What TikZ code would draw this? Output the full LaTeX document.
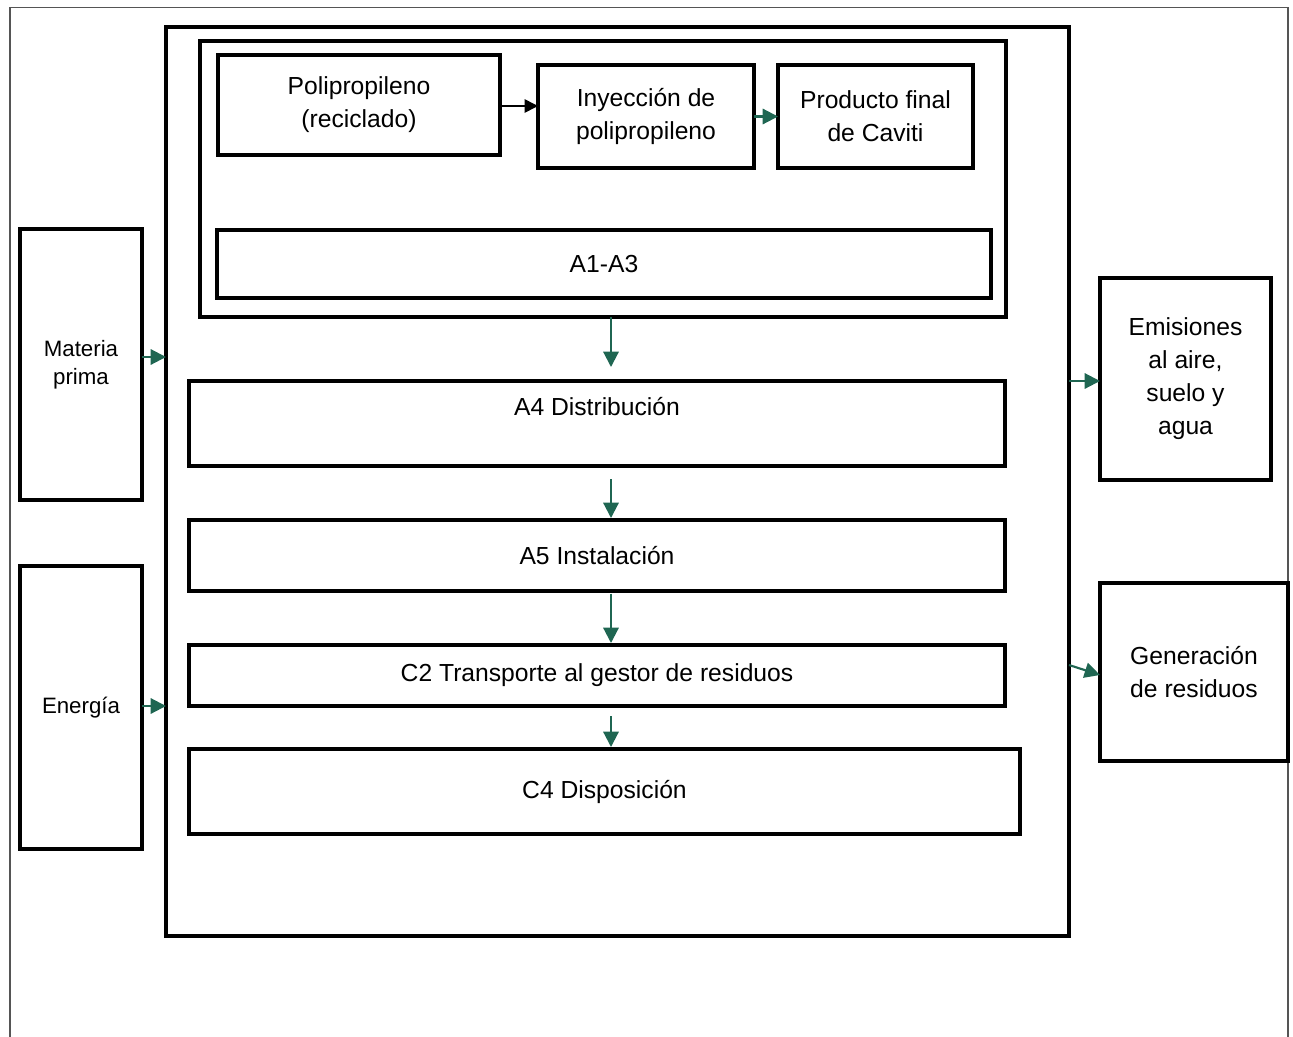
\documentclass[tikz,border=0pt]{standalone}
\usepackage{fontspec}
\setmainfont{Liberation Sans}
\usetikzlibrary{arrows.meta,calc}
\definecolor{gr}{RGB}{31,102,82}
\definecolor{frameg}{RGB}{85,85,85}
\begin{document}
\begin{tikzpicture}[x=0.75pt,y=-0.75pt,
 box/.style={draw=black,line width=3pt,rectangle,anchor=north west,inner sep=0pt,outer sep=0pt,align=center,font=\fontsize{18.5}{24.75}\selectfont},
 sbox/.style={box,font=\fontsize{16.7}{21}\selectfont},
 sz/.style 2 args={minimum width=#1*0.75pt,minimum height=#2*0.75pt},
 txt/.style={inner sep=0pt,align=center,font=\fontsize{18.5}{24.75}\selectfont},
 garrow/.style={draw=gr,line width=1.6pt,-{Triangle[length=11.5pt,width=11.5pt]}},
 barrow/.style={draw=black,line width=1.2pt,-{Triangle[length=10pt,width=10pt]}},
]
\useasboundingbox (0,0) rectangle (1293,1036);
\draw[line width=1.1pt,draw=frameg] (10,1045) -- (10,7.5) -- (1288,7.5) -- (1288,1045);

% main frame and boxes
\node[box,sz={903}{909}] (main) at (166,27) {};
\node[box,sz={806}{276}] (inner) at (200,41) {};
\node[box,sz={282}{100}] (poli) at (218,55) {Polipropileno\\(reciclado)};
\node[box,sz={216}{103}] (iny) at (538,65) {Inyección de\\polipropileno};
\node[box,sz={195}{103}] (prod) at (778,65) {Producto final\\de Caviti};
\node[box,sz={774}{68}] (a13) at (217,230) {A1-A3};
\node[box,sz={816}{85}] (a4) at (189,381) {};
\node[txt] (a4t) at (597,407) {A4 Distribución};
\node[box,sz={816}{71}] (a5) at (189,520) {A5 Instalación};
\node[box,sz={816}{61}] (c2) at (189,645) {C2 Transporte al gestor de residuos};
\node[box,sz={831}{85}] (c4) at (189,749) {C4 Disposición};

% side boxes
\node[sbox,sz={122}{271}] (mp) at (20,229) {Materia\\prima};
\node[sbox,sz={122}{283}] (ener) at (20,566) {Energía};
\node[box,sz={171}{202}] (emis) at (1100,278) {Emisiones\\al aire,\\suelo y\\agua};
\node[box,sz={188}{178}] (gen) at (1100,583) {Generación\\de residuos};

% helper coordinates
\coordinate (ax) at (611,0);
\coordinate (yb) at (0,106);
\coordinate (ym) at (0,357);
\coordinate (yen) at (0,706);
\coordinate (ye) at (0,381);
\coordinate (yg1) at (0,665);
\coordinate (yg2) at (0,675);

% arrows
\draw[barrow] (poli.east |- yb) -- (iny.west |- yb);
\draw[garrow] (iny.east) -- (prod.west);
\draw[garrow,shorten >=10.5pt] (inner.south -| ax) -- (a4.north -| ax);
\draw[garrow,shorten <=9.75pt,shorten >=1.5pt] (a4.south -| ax) -- (a5.north -| ax);
\draw[garrow,shorten <=2pt,shorten >=1.5pt] (a5.south -| ax) -- (c2.north -| ax);
\draw[garrow,shorten <=7.5pt,shorten >=1.5pt] (c2.south -| ax) -- (c4.north -| ax);
\draw[garrow] (mp.east |- ym) -- (main.west |- ym);
\draw[garrow] (ener.east |- yen) -- (main.west |- yen);
\draw[garrow] (main.east |- ye) -- (emis.west |- ye);
\draw[garrow] (main.east |- yg1) -- (gen.west |- yg2);
\end{tikzpicture}
\end{document}
